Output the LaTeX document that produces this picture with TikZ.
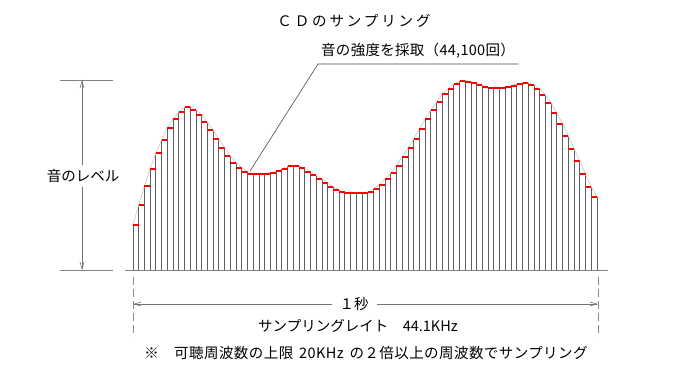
\documentclass[tikz,border=0pt]{standalone}
\usepackage{fontspec}
\setmainfont{Noto Sans CJK JP}
\usetikzlibrary{arrows.meta}
\definecolor{holdc}{RGB}{250,0,0}
\definecolor{barc}{RGB}{95,95,95}
\tikzset{
  bar/.style={barc,line width=0.9pt},
  hold/.style={holdc,line width=1.9pt},
  wave/.style={black!22,line width=0.6pt},
  guide/.style={black!50,line width=0.6pt},
  dim/.style={{Straight Barb[length=7pt,width=4pt]}-{Straight Barb[length=7pt,width=4pt]},black!55,line width=0.6pt},
  lbl/.style={font=\fontsize{14.5}{16}\selectfont,text=black,inner sep=0pt},
}
% sample tops, y counted down from the top edge
\newcommand\cdlevels{224.7,204.7,186,168.7,153.3,139.7,127.7,119,112,107.3,106.3,110,115,122.3,130.3,139.3,147.7,155.7,162.7,167.7,171.7,173.7,174.3,174.3,173,171,168.7,166.3,165.3,166,168.3,171.7,175.3,179,183.3,187,190,192.3,193.3,193.3,193,192,188.7,184.7,179,173,165.7,157,148.3,139,129,119.3,110.3,102,94.3,88.7,84,81,80.3,81.7,83.3,85.3,87,87.7,87.7,87.3,85.7,84,82.7,82.7,84.7,88.7,95,103.3,113.3,123.7,135.7,148.7,161,174.3,186.7,196.7}

\begin{document}
\begin{tikzpicture}[x=1pt,y=-1pt]
  \useasboundingbox[fill=white] (0,0) rectangle (690,382);
  \node[lbl] (ttl) at (354,21) {\addfontfeature{LetterSpace=20}ＣＤのサンプリング};
  % samples: bar, curve, held level
  \foreach \v [count=\i from 0, remember=\v as \w (initially 0)] in \cdlevels {
    \pgfmathsetmacro\xa{133+5.728*\i}
    \draw[bar] (\xa,270) -- (\xa,\v);
    \ifnum\i>0
      \pgfmathsetmacro\xb{\xa-5.728}
      \pgfmathsetmacro\tk{max(\v,\w)}
      \draw[wave] (\xb,\w) -- (\xa,\v);
      \draw[hold] (\xb,\tk) -- (\xa,\tk);
    \fi
  }
  \draw[guide] (125,270) -- (608,270);
  % level
  \coordinate (lvtop) at (82,80); \coordinate (lvbot) at (82,270);
  \draw[guide] (60,80) -- (113,80); \draw[guide] (60,270) -- (113,270);
  \draw[dim] (lvtop) -- (lvbot);
  \node[lbl,fill=white,inner ysep=4pt] (lvl) at (83,176) {音のレベル};
  % sampling count
  \coordinate (tap) at (250,171);
  \node[lbl,anchor=south,inner xsep=3pt,inner ysep=6pt] (take) at (418,64) {\addfontfeature{LetterSpace=2}音の強度を採取（44,100回）};
  \draw[black!70,line width=0.6pt] (tap) -- (take.south west) -- (take.south east);
  % one second
  \coordinate (secL) at (133,304); \coordinate (secR) at (598,304);
  \foreach \x in {133,598}{
    \draw[guide,black!45,dash pattern=on 8pt off 4pt] (\x,277) -- (\x,337);}
  \draw[dim] (secL) -- (secR);
  \node[lbl,fill=white,inner xsep=8pt,inner ysep=2pt] (sec) at (354,304) {１秒};
  \node[lbl] (rate) at (358,326) {サンプリングレイト　44.1KHz};
  \node[lbl] (note) at (366,353) {\addfontfeature{LetterSpace=3}※　可聴周波数の上限\hspace{0.4em}20KHz\hspace{0.4em}の２倍以上の周波数でサンプリング};
\end{tikzpicture}
\end{document}
